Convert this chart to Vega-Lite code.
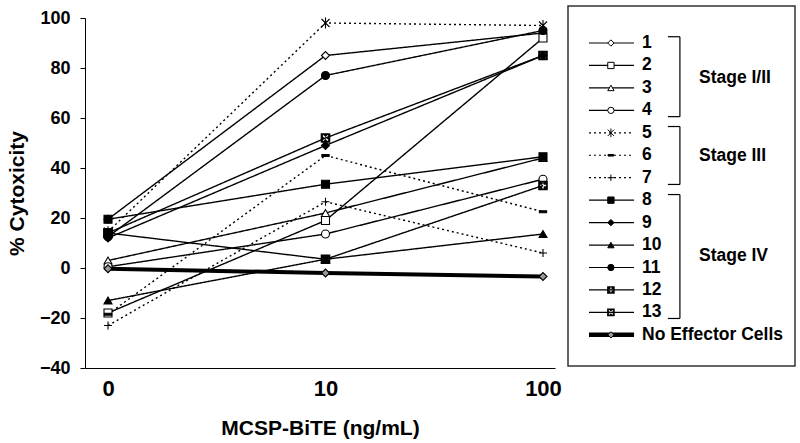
{
  "$schema": "https://vega.github.io/schema/vega-lite/v6.json",
  "background": "white",
  "padding": {"left": 6, "top": 5, "right": 5, "bottom": 5},
  "bounds": "flush",
  "spacing": 13,
  "config": {"font": "Liberation Sans", "view": {"stroke": null}},
  "datasets": {
    "main": [
      {"series": "1", "stage": "I/II", "conc": "0", "value": 19.5},
      {"series": "1", "stage": "I/II", "conc": "10", "value": 85},
      {"series": "1", "stage": "I/II", "conc": "100", "value": 94},
      {"series": "2", "stage": "I/II", "conc": "0", "value": -18},
      {"series": "2", "stage": "I/II", "conc": "10", "value": 19},
      {"series": "2", "stage": "I/II", "conc": "100", "value": 92},
      {"series": "3", "stage": "I/II", "conc": "0", "value": 3},
      {"series": "3", "stage": "I/II", "conc": "10", "value": 22},
      {"series": "3", "stage": "I/II", "conc": "100", "value": 44},
      {"series": "4", "stage": "I/II", "conc": "0", "value": 0.5},
      {"series": "4", "stage": "I/II", "conc": "10", "value": 13.6},
      {"series": "4", "stage": "I/II", "conc": "100", "value": 35.5},
      {"series": "5", "stage": "III", "conc": "0", "value": 14.5},
      {"series": "5", "stage": "III", "conc": "10", "value": 98},
      {"series": "5", "stage": "III", "conc": "100", "value": 97},
      {"series": "6", "stage": "III", "conc": "0", "value": -18.5},
      {"series": "6", "stage": "III", "conc": "10", "value": 45},
      {"series": "6", "stage": "III", "conc": "100", "value": 22.5},
      {"series": "7", "stage": "III", "conc": "0", "value": -23},
      {"series": "7", "stage": "III", "conc": "10", "value": 26.5},
      {"series": "7", "stage": "III", "conc": "100", "value": 6},
      {"series": "8", "stage": "IV", "conc": "0", "value": 19.5},
      {"series": "8", "stage": "IV", "conc": "10", "value": 33.5},
      {"series": "8", "stage": "IV", "conc": "100", "value": 44.5},
      {"series": "9", "stage": "IV", "conc": "0", "value": 12},
      {"series": "9", "stage": "IV", "conc": "10", "value": 49},
      {"series": "9", "stage": "IV", "conc": "100", "value": 85},
      {"series": "10", "stage": "IV", "conc": "0", "value": -13},
      {"series": "10", "stage": "IV", "conc": "10", "value": 3.5},
      {"series": "10", "stage": "IV", "conc": "100", "value": 13.6},
      {"series": "11", "stage": "IV", "conc": "0", "value": 12.5},
      {"series": "11", "stage": "IV", "conc": "10", "value": 77},
      {"series": "11", "stage": "IV", "conc": "100", "value": 95},
      {"series": "12", "stage": "IV", "conc": "0", "value": 14},
      {"series": "12", "stage": "IV", "conc": "10", "value": 3.5},
      {"series": "12", "stage": "IV", "conc": "100", "value": 33},
      {"series": "13", "stage": "IV", "conc": "0", "value": 14},
      {"series": "13", "stage": "IV", "conc": "10", "value": 52},
      {"series": "13", "stage": "IV", "conc": "100", "value": 85},
      {"series": "No Effector Cells", "stage": "Control", "conc": "0", "value": -0.3},
      {"series": "No Effector Cells", "stage": "Control", "conc": "10", "value": -2},
      {"series": "No Effector Cells", "stage": "Control", "conc": "100", "value": -3.4}
    ],
    "legend": [
      {"series": "1", "stage": "I/II", "row": 1},
      {"series": "2", "stage": "I/II", "row": 2},
      {"series": "3", "stage": "I/II", "row": 3},
      {"series": "4", "stage": "I/II", "row": 4},
      {"series": "5", "stage": "III", "row": 5},
      {"series": "6", "stage": "III", "row": 6},
      {"series": "7", "stage": "III", "row": 7},
      {"series": "8", "stage": "IV", "row": 8},
      {"series": "9", "stage": "IV", "row": 9},
      {"series": "10", "stage": "IV", "row": 10},
      {"series": "11", "stage": "IV", "row": 11},
      {"series": "12", "stage": "IV", "row": 12},
      {"series": "13", "stage": "IV", "row": 13},
      {"series": "No Effector Cells", "stage": "Control", "row": 14}
    ],
    "stages": [
      {"label": "Stage I/II", "first": 0.72, "last": 4.28, "mid": 2.55},
      {"label": "Stage III", "first": 4.72, "last": 7.3, "mid": 6.03},
      {"label": "Stage IV", "first": 7.75, "last": 13.27, "mid": 10.5}
    ]
  },
  "hconcat": [
    {
      "width": 470,
      "height": 350,
      "data": {"name": "main"},
      "encoding": {
        "x": {
          "field": "conc", "type": "nominal", "sort": ["0", "10", "100"],
          "scale": {"type": "point", "padding": 0.0805, "align": 0.657},
          "axis": {
            "title": "MCSP-BiTE (ng/mL)", "labelAngle": 0, "ticks": false,
            "labelFontSize": 22, "labelFontWeight": "bold", "labelPadding": 10,
            "titleFontSize": 21, "titleFontWeight": "bold", "titlePadding": 18,
            "domainColor": "black", "labelColor": "black", "titleColor": "black", "grid": false
          }
        },
        "y": {
          "field": "value", "type": "quantitative",
          "scale": {"domain": [-40, 100], "nice": false, "zero": false},
          "axis": {
            "title": "% Cytoxicity", "values": [-40, -20, 0, 20, 40, 60, 80, 100], "grid": false,
            "labelFontSize": 18, "labelFontWeight": "bold", "labelPadding": 10,
            "tickSize": 5, "tickColor": "black", "domainColor": "black",
            "titleFontSize": 21, "titleFontWeight": "bold", "titlePadding": 12,
            "labelColor": "black", "titleColor": "black"
          }
        }
      },
      "layer": [
        {
          "transform": [{"filter": "datum.series !== 'No Effector Cells'"}],
          "mark": {"type": "line", "color": "black", "strokeWidth": 1.4},
          "encoding": {
            "detail": {"field": "series", "type": "nominal"},
            "strokeDash": {
              "field": "stage", "type": "nominal",
              "scale": {"domain": ["I/II", "III", "IV", "Control"], "range": [[1, 0], [2, 3], [1, 0], [1, 0]]},
              "legend": null
            }
          }
        },
        {
          "transform": [{"filter": "datum.series === 'No Effector Cells'"}],
          "mark": {"type": "line", "color": "black", "strokeWidth": 4},
          "encoding": {}
        },
        {
          "mark": {"type": "point", "filled": true, "opacity": 1, "strokeWidth": 1.1, "size": 64},
          "encoding": {
            "shape": {
              "field": "series", "type": "nominal", "legend": null,
              "scale": {
                "domain": ["1", "2", "3", "4", "5", "6", "7", "8", "9", "10", "11", "12", "13", "No Effector Cells"],
                "range": ["diamond", "square", "triangle-up", "circle",
                  "M-1,-1L1,1M-1,1L1,-1M0,-1.35L0,1.35",
                  "M-0.9,-0.25H0.9V0.25H-0.9Z",
                  "M-1,0H1M0,-1V1",
                  "square", "diamond", "triangle-up", "circle",
                  "M-1.2,-1.2H1.2V1.2H-1.2Z M-0.18,-0.75V-0.18H-0.75V0.18H-0.18V0.75H0.18V0.18H0.75V-0.18H0.18V-0.75Z",
                  "M-1.2,-1.2H1.2V1.2H-1.2Z M-0.75,-0.5L-0.25,0L-0.75,0.5L-0.5,0.75L0,0.25L0.5,0.75L0.75,0.5L0.25,0L0.75,-0.5L0.5,-0.75L0,-0.25L-0.5,-0.75Z",
                  "diamond"]
              }
            },
            "fill": {
              "field": "series", "type": "nominal", "legend": null,
              "scale": {
                "domain": ["1", "2", "3", "4", "5", "6", "7", "8", "9", "10", "11", "12", "13", "No Effector Cells"],
                "range": ["white", "white", "white", "white", "transparent", "black", "transparent", "black", "black", "black", "black", "black", "black", "#9a9a9a"]
              }
            },
            "stroke": {
              "field": "series", "type": "nominal", "legend": null,
              "scale": {
                "domain": ["1", "2", "3", "4", "5", "6", "7", "8", "9", "10", "11", "12", "13", "No Effector Cells"],
                "range": ["black", "black", "black", "black", "black", "black", "black", "black", "black", "black", "black", "transparent", "transparent", "black"]
              }
            }
          }
        }
      ]
    },
    {
      "width": 227,
      "height": 350,
      "layer": [
        {
          "data": {"values": [{"box": "legend"}]},
          "mark": {"type": "rect", "fill": "white", "stroke": "#333333", "strokeWidth": 1.5},
          "encoding": {
            "x": {"datum": 0, "type": "quantitative", "scale": {"domain": [0, 100], "nice": false, "zero": false}, "axis": null},
            "x2": {"datum": 100},
            "y": {"datum": -0.65, "type": "quantitative", "scale": {"domain": [-0.114, 15.476], "nice": false, "zero": false, "reverse": true}, "axis": null},
            "y2": {"datum": 15.39}
          }
        },
        {
          "data": {"name": "legend"},
          "mark": {"type": "rule", "color": "black"},
          "encoding": {
            "x": {"datum": 9.25, "type": "quantitative"},
            "x2": {"datum": 29.1},
            "y": {"field": "row", "type": "quantitative"},
            "strokeWidth": {"condition": {"test": "datum.series === 'No Effector Cells'", "value": 4.5}, "value": 1.2},
            "strokeDash": {
              "field": "stage", "type": "nominal",
              "scale": {"domain": ["I/II", "III", "IV", "Control"], "range": [[1, 0], [2, 3], [1, 0], [1, 0]]},
              "legend": null
            }
          }
        },
        {
          "data": {"name": "legend"},
          "mark": {"type": "point", "filled": true, "opacity": 1, "strokeWidth": 1, "size": 40},
          "encoding": {
            "x": {"datum": 18.9, "type": "quantitative"},
            "y": {"field": "row", "type": "quantitative"},
            "shape": {
              "field": "series", "type": "nominal", "legend": null,
              "scale": {
                "domain": ["1", "2", "3", "4", "5", "6", "7", "8", "9", "10", "11", "12", "13", "No Effector Cells"],
                "range": ["diamond", "square", "triangle-up", "circle",
                  "M-1,-1L1,1M-1,1L1,-1M0,-1.35L0,1.35",
                  "M-0.9,-0.25H0.9V0.25H-0.9Z",
                  "M-1,0H1M0,-1V1",
                  "square", "diamond", "triangle-up", "circle",
                  "M-1.2,-1.2H1.2V1.2H-1.2Z M-0.18,-0.75V-0.18H-0.75V0.18H-0.18V0.75H0.18V0.18H0.75V-0.18H0.18V-0.75Z",
                  "M-1.2,-1.2H1.2V1.2H-1.2Z M-0.75,-0.5L-0.25,0L-0.75,0.5L-0.5,0.75L0,0.25L0.5,0.75L0.75,0.5L0.25,0L0.75,-0.5L0.5,-0.75L0,-0.25L-0.5,-0.75Z",
                  "diamond"]
              }
            },
            "fill": {
              "field": "series", "type": "nominal", "legend": null,
              "scale": {
                "domain": ["1", "2", "3", "4", "5", "6", "7", "8", "9", "10", "11", "12", "13", "No Effector Cells"],
                "range": ["white", "white", "white", "white", "transparent", "black", "transparent", "black", "black", "black", "black", "black", "black", "#9a9a9a"]
              }
            },
            "stroke": {
              "field": "series", "type": "nominal", "legend": null,
              "scale": {
                "domain": ["1", "2", "3", "4", "5", "6", "7", "8", "9", "10", "11", "12", "13", "No Effector Cells"],
                "range": ["black", "black", "black", "black", "black", "black", "black", "black", "black", "black", "black", "transparent", "transparent", "black"]
              }
            }
          }
        },
        {
          "data": {"name": "legend"},
          "mark": {"type": "text", "align": "left", "baseline": "middle", "fontSize": 17.5, "fontWeight": "bold", "color": "black"},
          "encoding": {
            "x": {"datum": 32.6, "type": "quantitative"},
            "y": {"field": "row", "type": "quantitative"},
            "text": {"field": "series"}
          }
        },
        {
          "data": {"name": "stages"},
          "mark": {"type": "rule", "color": "black", "strokeWidth": 1.2},
          "encoding": {
            "x": {"datum": 49.3, "type": "quantitative"},
            "y": {"field": "first", "type": "quantitative"},
            "y2": {"field": "last"}
          }
        },
        {
          "data": {"name": "stages"},
          "mark": {"type": "rule", "color": "black", "strokeWidth": 1.2},
          "encoding": {
            "x": {"datum": 44, "type": "quantitative"},
            "x2": {"datum": 49.3},
            "y": {"field": "first", "type": "quantitative"}
          }
        },
        {
          "data": {"name": "stages"},
          "mark": {"type": "rule", "color": "black", "strokeWidth": 1.2},
          "encoding": {
            "x": {"datum": 44, "type": "quantitative"},
            "x2": {"datum": 49.3},
            "y": {"field": "last", "type": "quantitative"}
          }
        },
        {
          "data": {"name": "stages"},
          "mark": {"type": "text", "align": "left", "baseline": "middle", "fontSize": 17.5, "fontWeight": "bold", "color": "black"},
          "encoding": {
            "x": {"datum": 57.7, "type": "quantitative"},
            "y": {"field": "mid", "type": "quantitative"},
            "text": {"field": "label"}
          }
        }
      ]
    }
  ]
}
